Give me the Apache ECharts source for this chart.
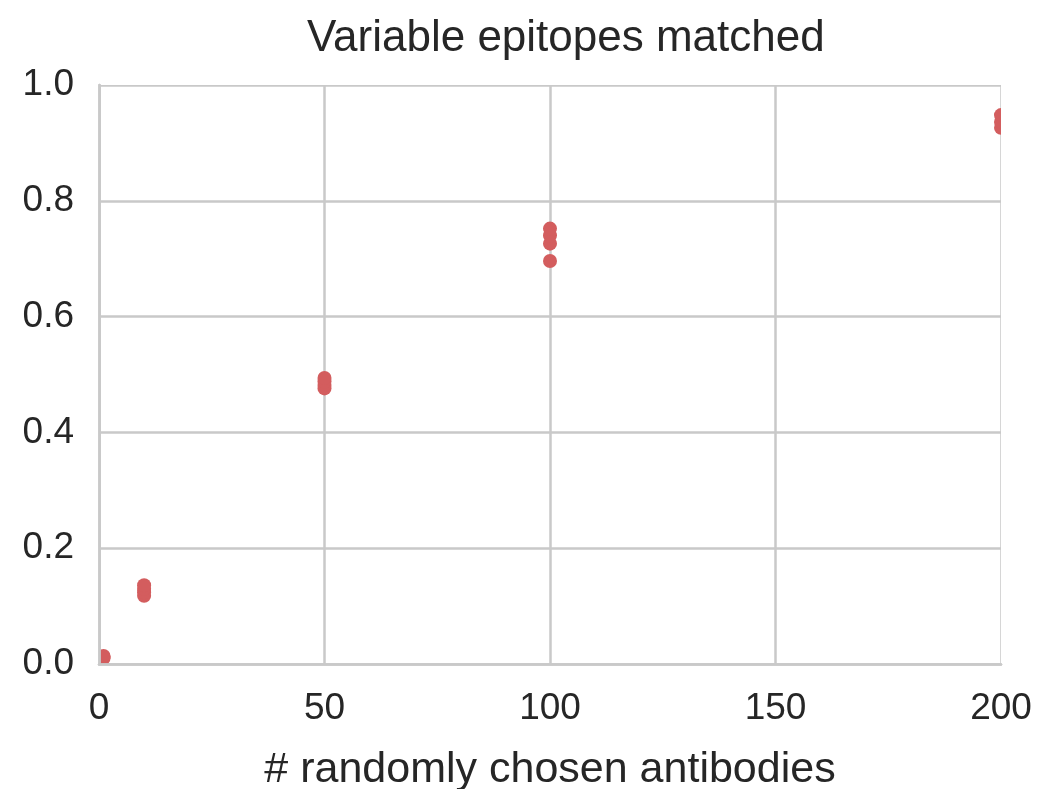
<!DOCTYPE html>
<html>
<head>
<meta charset="utf-8">
<title>Variable epitopes matched</title>
<script src="https://cdn.jsdelivr.net/npm/echarts@6/dist/echarts.min.js"></script>
<style>
  html, body { margin: 0; padding: 0; background: #ffffff; }
  #chart { width: 1041px; height: 789px; }
</style>
</head>
<body>
<div id="chart"></div>
<script>
// Number of randomly chosen antibodies per trial, and fraction of variable epitopes matched
const antibodyCounts = [1, 1, 1, 10, 10, 10, 10, 50, 50, 50, 50, 100, 100, 100, 100, 200, 200, 200];
const fractionMatched = [0.010, 0.012, 0.014, 0.118, 0.124, 0.130, 0.136, 0.476, 0.482, 0.488, 0.494, 0.696, 0.726, 0.740, 0.752, 0.926, 0.936, 0.948];
const xTicks = [0, 50, 100, 150, 200];
const yTicks = [0.0, 0.2, 0.4, 0.6, 0.8, 1.0];

const titleText = 'Variable epitopes matched';
const xAxisName = '# randomly chosen antibodies';

const W = 1041, H = 789;
const grid = { left: 99, right: 40, top: 85, bottom: 125 };
const textColor = '#262626';
const gridColor = '#c9c9c9';
const pointColor = '#d35d5e';
const fontFamily = '"Liberation Sans", Arial, Helvetica, sans-serif';

const points = antibodyCounts.map((x, i) => [x, fractionMatched[i]]);
const xRange = { min: xTicks[0], max: xTicks[xTicks.length - 1], interval: xTicks[1] - xTicks[0] };
const yRange = { min: yTicks[0], max: yTicks[yTicks.length - 1], interval: 0.2 };

// White panels around the plotting area so markers are cut at the frame
const plotRight = W - grid.right, plotBottom = H - grid.bottom;
const cover = [
  { x: 0, y: 0, width: W, height: grid.top },
  { x: 0, y: plotBottom, width: W, height: H - plotBottom },
  { x: 0, y: 0, width: grid.left, height: H },
  { x: plotRight, y: 0, width: W - plotRight, height: H }
].map(s => ({ type: 'rect', z: 4, silent: true, shape: s, style: { fill: '#ffffff' } }));

const hidden = { show: false };
const frameLine = { show: true, lineStyle: { color: gridColor, width: 2.5 } };

const chart = echarts.init(document.getElementById('chart'), null, { renderer: 'canvas' });
chart.setOption({
  backgroundColor: '#ffffff',
  animation: false,
  title: {
    text: titleText,
    left: 302,
    top: 12,
    z: 10,
    textStyle: { fontFamily, fontSize: 44, fontWeight: 'normal', color: textColor }
  },
  grid: {
    left: grid.left, right: grid.right, top: grid.top, bottom: grid.bottom,
    containLabel: false, outerBoundsMode: 'none'
  },
  graphic: { elements: cover },
  xAxis: [
    // data axis with vertical grid lines
    Object.assign({ type: 'value', z: 0, axisLine: hidden, axisTick: hidden, axisLabel: hidden,
      splitLine: { show: true, lineStyle: { color: gridColor, width: 2.5 } } }, xRange),
    // bottom frame and tick labels
    Object.assign({ type: 'value', position: 'bottom', z: 10, axisLine: frameLine, axisTick: hidden, splitLine: hidden,
      axisLabel: { margin: 26, fontFamily, fontSize: 37, color: textColor },
      name: xAxisName, nameLocation: 'middle', nameGap: 85,
      nameTextStyle: { fontFamily, fontSize: 43, color: textColor } }, xRange),
    // top frame
    Object.assign({ type: 'value', position: 'top', z: 10, axisLine: frameLine, axisTick: hidden,
      axisLabel: hidden, splitLine: hidden }, xRange)
  ],
  yAxis: [
    Object.assign({ type: 'value', z: 0, axisLine: hidden, axisTick: hidden, axisLabel: hidden,
      splitLine: { show: true, lineStyle: { color: gridColor, width: 2.5 } } }, yRange),
    Object.assign({ type: 'value', position: 'left', z: 10, axisLine: frameLine, axisTick: hidden, splitLine: hidden,
      axisLabel: { margin: 25, fontFamily, fontSize: 37, color: textColor,
        formatter: v => v.toFixed(1) } }, yRange),
    Object.assign({ type: 'value', position: 'right', z: 10, axisLine: frameLine, axisTick: hidden,
      axisLabel: hidden, splitLine: hidden }, yRange)
  ],
  series: [{
    type: 'scatter',
    xAxisIndex: 0,
    yAxisIndex: 0,
    z: 2,
    clip: false,
    symbol: 'circle',
    symbolSize: 14,
    itemStyle: { color: pointColor, opacity: 1 },
    data: points
  }]
});
</script>
</body>
</html>
